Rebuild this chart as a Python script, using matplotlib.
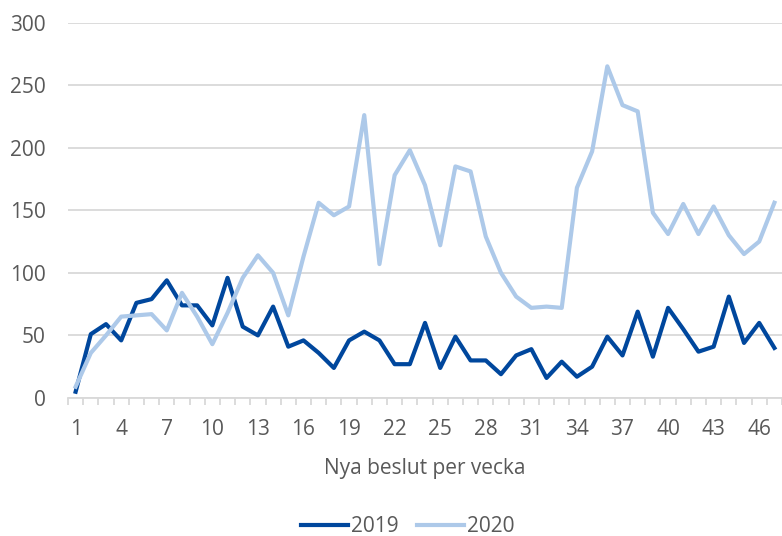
import numpy as np
import matplotlib.pyplot as plt

plt.rcParams['font.family'] = ['Open Sans', 'DejaVu Sans']

weeks = list(range(1, 48))
y2019 = [5, 51, 59, 46, 76, 79, 94, 74, 74, 58, 96, 57, 50, 73, 41,
         46, 36, 24, 46, 53, 46, 27, 27, 60, 24, 49, 30, 30, 19, 34,
         39, 16, 29, 17, 25, 49, 34, 69, 33, 72, 55, 37, 41, 81, 44,
         60, 40]
y2020 = [9, 36, 50, 65, 66, 67, 54, 84, 65, 43, 68, 96, 114, 100, 66,
         113, 156, 146, 153, 226, 107, 178, 198, 170, 122, 185, 181, 129, 100, 81,
         72, 73, 72, 168, 197, 265, 234, 229, 148, 131, 155, 131, 153, 130, 115,
         125, 156]
xticks = list(range(1, 47, 3))

fig = plt.figure(figsize=(7.82, 5.36), dpi=100)
ax = fig.add_axes([0.087, 0.2575, 0.913, 0.7005])

ax.set_ylim(0, 300)
ax.set_xlim(0.5, 46.78)
ax.set_yticks(range(0, 301, 50))
ax.yaxis.grid(True, color='#d9d9d9', linewidth=1.3)
ax.set_axisbelow(True)

ax.plot(weeks, y2019, color='#00479d', linewidth=3, label='2019', solid_joinstyle='round')
ax.plot(weeks, y2020, color='#adc9e9', linewidth=3, label='2020', solid_joinstyle='round')

for s in ['top', 'right', 'left']:
    ax.spines[s].set_visible(False)
ax.spines['bottom'].set_color('#d9d9d9')
ax.spines['bottom'].set_linewidth(1.3)

ax.set_xticks(xticks)
ax.set_xticks(np.arange(0.5, 48, 1), minor=True)
ax.tick_params(axis='x', which='major', length=0, pad=15, labelsize=15, labelcolor='#595959')
ax.tick_params(axis='x', which='minor', length=5, color='#d9d9d9', width=1.3)
ax.tick_params(axis='y', length=0, pad=16, labelsize=15, labelcolor='#595959')

ax.set_xlabel('Nya beslut per vecka', fontsize=15, color='#595959', labelpad=13)

ax.legend(loc='center', bbox_to_anchor=(0.476, -0.343), ncol=2, frameon=False,
          fontsize=15, labelcolor='#595959', handlelength=2.25, handletextpad=0.15,
          columnspacing=0.9)

plt.savefig('out.png', dpi=100)
